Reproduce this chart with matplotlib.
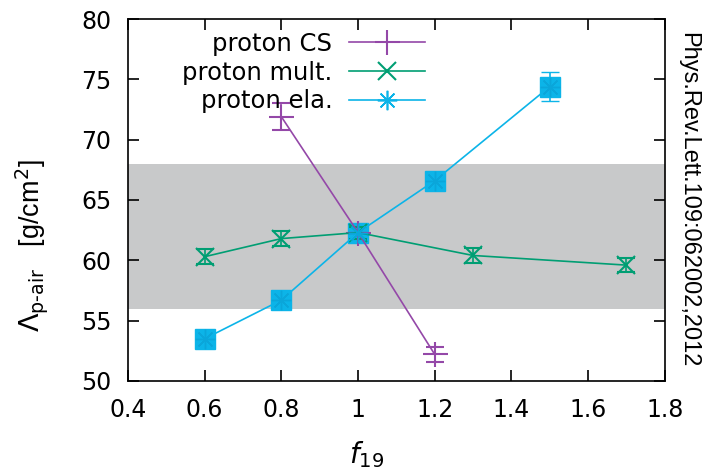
import matplotlib
matplotlib.use("Agg")
import matplotlib.pyplot as plt
from matplotlib.lines import Line2D

# data
cs_x = [0.8, 1.0, 1.2]
cs_y = [71.9, 62.3, 52.2]
cs_err = [1.1, 0.0, 0.6]

mult_x = [0.6, 0.8, 1.0, 1.3, 1.7]
mult_y = [60.3, 61.8, 62.3, 60.4, 59.6]
mult_err = [0.6, 0.6, 0.5, 0.6, 0.6]

ela_x = [0.6, 0.8, 1.0, 1.2, 1.5]
ela_y = [53.5, 56.7, 62.3, 66.6, 74.4]
ela_err = [0.0, 0.0, 0.0, 0.6, 1.2]

band = (56, 68)
xticks = [0.4, 0.6, 0.8, 1.0, 1.2, 1.4, 1.6, 1.8]
xticklabels = ["0.4", "0.6", "0.8", "1", "1.2", "1.4", "1.6", "1.8"]
yticks = [50, 55, 60, 65, 70, 75, 80]

purple = "#9448a8"
green = "#009e73"
cyan = "#0cb4e8"

fig = plt.figure(figsize=(7.11, 4.75), dpi=100)
ax = fig.add_axes([0.18, 0.198, 0.755, 0.762])

ax.axhspan(band[0], band[1], color="#c8c9ca", lw=0, zorder=0)

# squares under ela markers
ax.plot(ela_x, ela_y, ls="none", marker="s", ms=14, color=cyan, zorder=2)

ax.errorbar(cs_x, cs_y, yerr=cs_err, color=purple, lw=1.2, marker="+", ms=18,
            mew=1.5, capsize=6.5, capthick=1.5, elinewidth=1.2, zorder=3)
ax.errorbar(mult_x, mult_y, yerr=mult_err, color=green, lw=1.2, marker="x", ms=13,
            mew=1.5, capsize=6.5, capthick=1.5, elinewidth=1.2, zorder=3)
ax.errorbar(ela_x, ela_y, yerr=ela_err, color=cyan, lw=1.2, marker=(8, 2, 0), ms=14,
            mew=1.0, mec="#0aa6da", capsize=6.5, capthick=1.5, elinewidth=1.2, zorder=3)

ax.set_xlim(0.4, 1.8)
ax.set_ylim(50, 80)
ax.set_xticks(xticks)
ax.set_xticklabels(xticklabels)
ax.set_yticks(yticks)
ax.tick_params(direction="in", length=8, width=1.2, top=True, right=True,
               labelsize=17)
ax.tick_params(axis="y", pad=12)
ax.tick_params(axis="x", pad=12)
for s in ax.spines.values():
    s.set_linewidth(1.2)

ax.set_xlabel(r"$\mathit{f}_{19}$", fontsize=20)
ax.xaxis.set_label_coords(0.445, -0.16)
ax.set_ylabel(r"$\Lambda_{\rm p\text{-}air}$   [g/cm$^2$]", fontsize=19.5,
              family="Liberation Sans")
ax.yaxis.set_label_coords(-0.145, 0.373)

fig.text(0.968, 0.579, "Phys.Rev.Lett.109:062002,2012", rotation=-90, ha="center",
         va="center", fontsize=17, family="Liberation Sans")

handles = [
    Line2D([], [], color=purple, lw=1.2, marker="+", ms=18, mew=1.5),
    Line2D([], [], color=green, lw=1.2, marker="x", ms=13, mew=1.5),
    Line2D([], [], color=cyan, lw=1.2, marker=(8, 2, 0), ms=14, mew=1.2),
]
labels = ["proton CS", "proton mult.", "proton ela."]
leg = ax.legend(handles, labels, loc="upper right", bbox_to_anchor=(0.553, 0.965),
                frameon=False, fontsize=17.5, markerfirst=False, handlelength=3.1,
                handletextpad=0.7, labelspacing=0.2, borderaxespad=0, borderpad=0)
for t in leg.get_texts():
    t.set_ha("right")
leg._legend_box.align = "right"

fig.savefig("out.png", dpi=100)
